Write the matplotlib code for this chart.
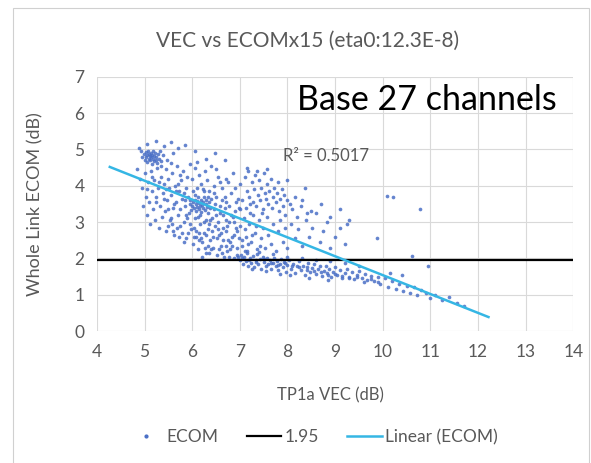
import numpy as np
import matplotlib
matplotlib.use("Agg")
import matplotlib.pyplot as plt
from matplotlib.lines import Line2D
from matplotlib.patches import Rectangle

plt.rcParams["font.family"] = ["Lato", "DejaVu Sans"]

GREY = "#595959"
GRID = "#D9D9D9"
BLUE = "#4A6FC6"
CYAN = "#35B6E4"

# ---- data (TP1a VEC dB, whole-link ECOM dB) ----
# dense blob top-left
vec_a = [4.92, 4.95, 4.98, 5.00, 5.02, 5.03, 5.05, 5.06, 5.08, 5.09, 5.10, 5.11, 5.12, 5.13,
         5.14, 5.15, 5.16, 5.17, 5.18, 5.19, 5.20, 5.22, 5.23, 5.25, 5.27, 5.28, 5.30, 5.33,
         5.35, 5.38, 4.88, 5.05, 5.25, 5.40, 5.55, 5.70, 5.85, 6.05, 5.60, 5.48, 6.47]
ecom_a = [4.95, 4.80, 4.88, 4.70, 4.92, 4.78, 4.85, 4.65, 4.95, 4.75, 4.88, 4.82, 4.70, 4.90,
          4.78, 4.60, 4.86, 4.74, 4.95, 4.68, 4.82, 4.90, 4.72, 4.80, 4.62, 4.88, 4.75, 4.95,
          4.68, 4.84, 5.05, 5.15, 5.22, 5.10, 5.20, 5.05, 5.12, 4.95, 4.90, 4.72, 4.90]

# left body
vec_b = [4.85, 4.90, 4.95, 4.97, 5.00, 5.02, 5.05, 5.07, 5.10, 5.12, 5.14, 5.15, 5.18, 5.20,
         5.22, 5.24, 5.26, 5.28, 5.30, 5.32, 5.34, 5.36, 5.38, 5.40, 5.42, 5.44, 5.46, 5.48,
         5.50, 5.52, 5.54, 5.56, 5.58, 5.60, 5.62, 5.64, 5.66, 5.68, 5.70, 5.72, 5.74, 5.76,
         5.78, 5.80, 5.82, 5.84, 5.86, 5.88, 5.90, 5.92, 5.94, 5.96, 5.98, 5.55, 5.35, 5.15,
         5.45, 5.65, 5.75, 5.85, 5.25, 5.05, 5.95, 5.58, 5.78, 5.40, 5.70, 5.90, 5.50, 5.30]
ecom_b = [4.45, 4.20, 3.95, 3.45, 4.35, 3.70, 3.20, 4.10, 3.55, 2.95, 4.40, 3.85, 3.35, 4.15,
          3.05, 3.70, 4.50, 3.95, 2.85, 3.45, 4.25, 3.15, 3.80, 4.05, 3.30, 4.45, 2.75, 3.60,
          4.20, 3.95, 3.05, 3.75, 4.35, 3.40, 2.65, 4.00, 3.55, 4.55, 3.20, 3.85, 2.90, 4.15,
          3.65, 4.40, 3.00, 3.45, 3.95, 2.55, 4.25, 3.70, 3.25, 4.60, 2.80, 4.62, 4.55, 4.25,
          3.90, 3.85, 4.30, 3.60, 3.55, 3.90, 3.50, 2.95, 2.70, 3.65, 4.05, 3.10, 3.35, 4.10]

# central body around VEC 6-7
vec_c = [6.00, 6.02, 6.04, 6.05, 6.07, 6.08, 6.10, 6.11, 6.12, 6.14, 6.15, 6.16, 6.18, 6.19,
         6.20, 6.22, 6.23, 6.25, 6.26, 6.28, 6.30, 6.32, 6.34, 6.36, 6.38, 6.40, 5.96, 5.98,
         6.06, 6.17,
         6.00, 6.02, 6.04, 6.06, 6.08, 6.10, 6.12, 6.14, 6.16, 6.18, 6.20, 6.22, 6.24, 6.26,
         6.28, 6.30, 6.32, 6.34, 6.36, 6.38, 6.40, 6.42, 6.44, 6.46, 6.48, 6.50, 6.52, 6.54,
         6.56, 6.58, 6.60, 6.62, 6.64, 6.66, 6.68, 6.70, 6.72, 6.74, 6.76, 6.78, 6.80, 6.82,
         6.84, 6.86, 6.88, 6.90, 6.92, 6.94, 6.96, 6.98, 6.05, 6.15, 6.25, 6.35, 6.45, 6.55,
         6.65, 6.75, 6.85, 6.95, 6.10, 6.30, 6.50, 6.70, 6.20, 6.40, 6.60, 6.80, 6.90, 6.45,
         6.58, 6.33, 6.62, 6.78, 6.52, 6.42, 6.68, 6.88, 6.72, 6.96]
ecom_c = [3.45, 3.55, 3.38, 3.62, 3.50, 3.30, 3.58, 3.42, 3.68, 3.35, 3.52, 3.45, 3.62, 3.28,
          3.48, 3.56, 3.40, 3.70, 3.33, 3.50, 3.60, 3.42, 3.25, 3.55, 3.38, 3.65, 3.60, 3.32,
          3.75, 3.20,
          4.20, 2.40, 2.85, 4.50, 2.60, 3.95, 2.25, 4.30, 2.95, 4.05, 2.45, 3.90, 2.70, 4.40,
          3.05, 2.15, 4.15, 2.80, 3.85, 2.50, 4.55, 3.10, 2.30, 4.00, 2.90, 3.70, 2.10, 4.25,
          2.65, 3.45, 2.35, 3.95, 3.20, 2.05, 4.70, 2.75, 3.55, 2.20, 4.10, 3.00, 2.45, 3.80,
          2.60, 4.35, 2.00, 3.30, 2.85, 2.30, 3.65, 2.55, 3.10, 2.70, 3.00, 2.95, 3.35, 3.00,
          2.85, 2.50, 3.15, 2.10, 4.65, 4.75, 4.45, 4.20, 2.05, 2.25, 2.70, 2.25, 3.95, 3.80,
          4.10, 2.35, 2.15, 2.05, 2.55, 2.75, 3.40, 2.65, 3.05, 2.05]

# extra fill of the dense body VEC 5.5-7.5
vec_h = [5.55, 5.62, 5.68, 5.75, 5.82, 5.88, 5.95, 6.02, 6.08, 6.12, 6.18, 6.24, 6.28, 6.34,
         6.38, 6.44, 6.48, 6.54, 6.58, 6.64, 6.68, 6.74, 6.78, 6.84, 6.88, 6.94, 6.98, 7.04,
         7.10, 7.18, 7.22, 7.26, 7.34, 7.42, 7.46, 6.14, 6.26, 6.36, 6.56, 6.72, 5.72, 5.82,
         5.92, 6.04, 5.50, 5.60, 6.50, 6.62, 6.82, 6.92]
ecom_h = [3.10, 3.50, 2.85, 3.35, 3.80, 3.20, 2.95, 3.85, 2.75, 3.15, 2.55, 3.85, 2.65, 3.70,
          3.05, 2.60, 3.50, 2.80, 3.25, 2.50, 3.70, 2.90, 3.45, 2.35, 3.00, 2.75, 3.40, 2.50,
          2.80, 2.40, 3.50, 2.65, 2.90, 2.35, 3.25, 2.50, 2.30, 2.15, 2.25, 2.35, 2.60, 2.45,
          2.70, 2.60, 2.90, 2.75, 3.20, 3.60, 3.20, 3.55]

# upper cluster VEC 7-8.4
vec_d = [7.00, 7.05, 7.10, 7.12, 7.15, 7.18, 7.20, 7.22, 7.25, 7.28, 7.30, 7.32, 7.35, 7.38,
         7.40, 7.42, 7.45, 7.48, 7.50, 7.52, 7.55, 7.58, 7.60, 7.62, 7.65, 7.68, 7.70, 7.72,
         7.75, 7.78, 7.80, 7.82, 7.85, 7.88, 7.90, 7.92, 7.95, 7.98, 8.00, 8.05, 8.10, 8.15,
         8.20, 8.28, 8.36, 8.42, 7.36, 7.56, 7.15, 7.00]
ecom_d = [4.05, 3.60, 4.25, 3.40, 3.85, 4.40, 3.70, 3.25, 4.10, 3.55, 3.90, 4.30, 3.45, 3.75,
          4.15, 3.60, 3.95, 3.35, 4.35, 3.80, 3.65, 4.05, 3.50, 3.85, 4.20, 3.40, 3.70, 3.95,
          3.55, 3.80, 4.10, 3.30, 3.65, 3.90, 3.45, 3.75, 3.20, 3.60, 4.15, 3.50, 3.35, 3.70,
          3.15, 3.45, 3.95, 3.25, 4.40, 4.45, 4.50, 3.35]

# middle spread VEC 7-9.3
vec_e = [7.00, 7.05, 7.08, 7.12, 7.16, 7.20, 7.24, 7.28, 7.32, 7.36, 7.40, 7.44, 7.48, 7.52,
         7.56, 7.60, 7.65, 7.70, 7.75, 7.80, 7.85, 7.90, 7.95, 8.00, 8.08, 8.15, 8.22, 8.30,
         8.38, 8.45, 8.52, 8.60, 8.68, 8.75, 8.82, 8.90, 9.00, 9.10, 9.20, 9.30, 8.50, 8.70,
         8.90, 9.10, 8.30, 9.25]
ecom_e = [2.90, 2.35, 3.10, 2.60, 2.20, 2.95, 2.45, 3.20, 2.70, 2.25, 3.05, 2.55, 2.85, 2.30,
          3.15, 2.65, 2.40, 2.95, 2.20, 2.75, 3.05, 2.45, 2.85, 2.30, 2.95, 2.55, 2.80, 2.35,
          3.05, 2.60, 2.85, 3.25, 2.45, 2.75, 3.00, 2.30, 2.60, 2.85, 2.40, 3.05, 3.30, 3.50,
          3.15, 3.35, 3.60, 2.95]

# lower band along the 1.95 line
vec_f = [7.00, 7.03, 7.06, 7.09, 7.12, 7.15, 7.18, 7.21, 7.24, 7.27, 7.30, 7.33, 7.36, 7.39,
         7.42, 7.45, 7.48, 7.51, 7.54, 7.57, 7.60, 7.63, 7.66, 7.69, 7.72, 7.75, 7.78, 7.81,
         7.84, 7.87, 7.90, 7.93, 7.96, 8.00, 8.04, 8.08, 8.12, 8.16, 8.20, 8.24, 8.28, 8.32,
         8.36, 8.40, 8.44, 8.48, 8.52, 8.56, 8.60, 8.64, 8.68, 8.72, 8.76, 8.80, 8.84, 8.88,
         8.92, 8.96, 9.00, 9.05, 9.10, 9.15, 9.20, 9.25, 9.30, 9.35, 9.40, 9.45, 9.50, 9.56,
         9.62, 9.68, 9.75, 9.82, 9.90, 7.10, 7.40, 7.70, 8.00, 8.30, 8.60, 8.90, 9.20, 9.50,
         7.55, 8.05, 8.45, 8.85, 7.25, 7.85,
         7.05, 7.20, 7.35, 7.50, 7.65, 7.80, 7.95, 8.10, 8.25, 8.40, 8.55, 8.70, 8.85, 9.00,
         9.15, 9.30, 9.45, 9.60, 9.75, 9.90]
ecom_f = [1.95, 2.10, 1.85, 2.05, 1.92, 2.15, 1.80, 2.00, 1.88, 2.08, 1.75, 1.95, 2.12, 1.85,
          1.98, 1.72, 2.05, 1.90, 1.78, 2.02, 1.85, 1.95, 1.70, 1.88, 2.00, 1.80, 1.92, 1.68,
          1.85, 1.98, 1.75, 1.90, 1.62, 1.82, 1.95, 1.70, 1.85, 1.60, 1.78, 1.92, 1.68, 1.80,
          1.55, 1.75, 1.88, 1.62, 1.74, 1.85, 1.58, 1.70, 1.80, 1.52, 1.66, 1.78, 1.60, 1.70,
          1.48, 1.62, 1.75, 1.55, 1.68, 1.45, 1.60, 1.72, 1.50, 1.62, 1.42, 1.55, 1.65, 1.45,
          1.58, 1.40, 1.52, 1.38, 1.48, 2.20, 2.18, 2.12, 2.05, 2.00, 1.95, 1.92, 1.88, 1.80,
          1.65, 1.55, 1.45, 1.40, 1.70, 1.58,
          2.02, 1.95, 1.90, 1.98, 1.88, 1.82, 1.88, 1.78, 1.75, 1.68, 1.65, 1.62, 1.55, 1.58,
          1.52, 1.45, 1.48, 1.35, 1.42, 1.35]

# tail and outliers
vec_g = [9.95, 10.05, 10.12, 10.20, 10.28, 10.35, 10.42, 10.50, 10.58, 10.65, 10.72, 10.80,
         10.90, 11.00, 11.10, 11.25, 11.40, 11.55, 11.70, 10.15, 10.40,
         10.10, 10.22, 10.78, 9.87, 10.62, 10.96]
ecom_g = [1.30, 1.45, 1.22, 1.38, 1.15, 1.30, 1.10, 1.25, 1.05, 1.20, 0.98, 1.12,
          1.05, 0.92, 1.00, 0.85, 0.95, 0.78, 0.70, 1.60, 1.55,
          3.72, 3.68, 3.35, 2.56, 2.07, 1.79]

vec = vec_a + vec_b + vec_c + vec_h + vec_d + vec_e + vec_f + vec_g
ecom = ecom_a + ecom_b + ecom_c + ecom_h + ecom_d + ecom_e + ecom_f + ecom_g

limit_level = 1.95
trend_slope = -0.52
trend_intercept = 6.74
trend_x = [4.27, 12.22]
r_squared = 0.5017

x_ticks = list(range(4, 15))
y_ticks = list(range(0, 8))

fig = plt.figure(figsize=(5.91, 4.63), dpi=100, facecolor="white")
fig.patches.append(Rectangle((0.022, -0.01), 0.975, 0.993, transform=fig.transFigure,
                             fill=False, edgecolor="#D0D0D0", linewidth=0.8))
ax = fig.add_axes([0.164, 0.285, 0.806, 0.549])

ax.scatter(vec, ecom, s=7, color=BLUE, alpha=0.85, linewidths=0, zorder=3)
ax.axhline(limit_level, color="black", linewidth=1.6, zorder=4)
tx = np.array(trend_x)
ax.plot(tx, trend_slope * tx + trend_intercept, color=CYAN, linewidth=1.8, zorder=5)

ax.set_xlim(4, 14)
ax.set_ylim(0, 7)
ax.set_xticks(x_ticks)
ax.set_yticks(y_ticks)
ax.grid(True, color=GRID, linewidth=0.8)
ax.set_axisbelow(True)
for s in ax.spines.values():
    s.set_visible(False)
ax.tick_params(length=0, colors=GREY, labelsize=12.5, pad=9)

ax.set_xlabel("TP1a VEC (dB)", color=GREY, fontsize=12)
ax.xaxis.set_label_coords(0.49, -0.22)
ax.set_ylabel("Whole Link ECOM (dB)", color=GREY, fontsize=13)
ax.yaxis.set_label_coords(-0.112, 0.5)
fig.text(0.521, 0.912, "VEC vs ECOMx15 (eta0:12.3E-8)", color=GREY, fontsize=15,
         ha="center", va="center")
ax.text(0.39, 0.69, f"R² = {r_squared}", transform=ax.transAxes, color=GREY,
        fontsize=12, ha="left", va="center")
fig.text(0.503, 0.784, "Base 27 channels", color="black", fontsize=24.5,
         ha="left", va="center")

handles = [
    Line2D([], [], marker="o", linestyle="none", markersize=2, color=BLUE),
    Line2D([], [], color="black", linewidth=1.6),
    Line2D([], [], color=CYAN, linewidth=1.8),
]
fig.legend(handles, ["ECOM", "1.95", "Linear (ECOM)"], loc="center",
           bbox_to_anchor=(0.53, 0.056), ncol=3, frameon=False, fontsize=12.5,
           labelcolor=GREY, handlelength=2.0, handletextpad=0.2, columnspacing=1.6)

fig.savefig("out.png", dpi=100, facecolor="white")
